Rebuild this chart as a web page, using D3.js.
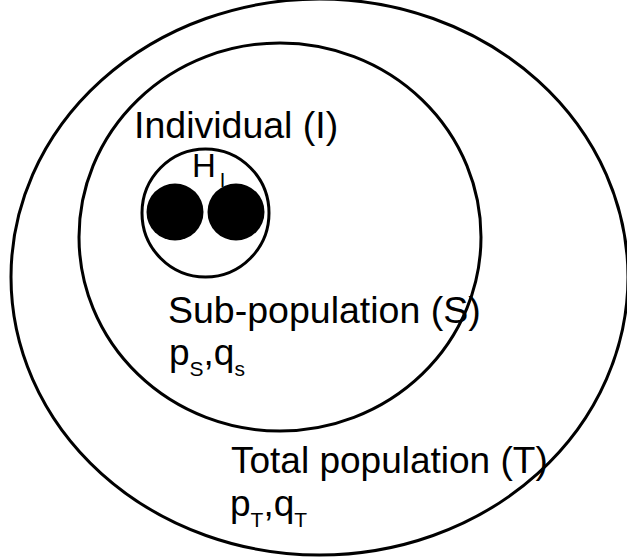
<!DOCTYPE html>
<html>
<head>
<meta charset="utf-8">
<script src="https://cdn.jsdelivr.net/npm/d3@7"></script>
<style>
  body { margin: 0; background: #fff; }
  svg text { font-family: "Liberation Sans", Arial, sans-serif; fill: #000; }
</style>
</head>
<body>
<div id="diagram"></div>
<script>
// Nested levels of the population (outer to inner)
var regions = ['Total population (T)', 'Sub-population (S)', 'Individual (I)'];
var centerX = [319.5, 280, 205.5];
var centerY = [277, 237, 213];
var radiusX = [308.5, 201, 63.5];
var radiusY = [278, 194, 64];

// The two alleles carried by the individual
var alleleX = [175, 236];
var alleleY = [212, 212];
var alleleR = 28.5;

// Labels: main text, subscript pairs
var labelText = ['Total population (T)', 'Sub-population (S)', 'Individual (I)'];
var labelX = [231, 168, 134];
var labelY = [473, 323, 138];
var labelSize = [37, 37.5, 37.5];
var freqMain = [['p', 'q'], ['p', 'q']];
var freqSub = [['T', 'T'], ['S', 's']];
var freqX = [230, 169];
var freqY = [516, 365];

var svgWidth = 627;
var svgHeight = 558;

var svg = d3.select('#diagram')
    .append('svg')
    .attr('width', svgWidth)
    .attr('height', svgHeight);

// Scales in diagram units (same as pixel grid of the figure)
var xScale = d3.scaleLinear().domain([0, 627]).range([0, svgWidth]);
var yScale = d3.scaleLinear().domain([0, 558]).range([0, svgHeight]);

var ellipseData = regions.map(function(name, i) {
    return { name: name, cx: centerX[i], cy: centerY[i], rx: radiusX[i], ry: radiusY[i] };
});

svg.selectAll('ellipse.level')
    .data(ellipseData)
    .enter()
    .append('ellipse')
    .attr('class', 'level')
    .attr('cx', d => xScale(d.cx))
    .attr('cy', d => yScale(d.cy))
    .attr('rx', d => xScale(d.rx) - xScale(0))
    .attr('ry', d => yScale(d.ry) - yScale(0))
    .attr('fill', 'none')
    .attr('stroke', '#000')
    .attr('stroke-width', 3);

svg.selectAll('circle.allele')
    .data(alleleX)
    .enter()
    .append('circle')
    .attr('class', 'allele')
    .attr('cx', d => xScale(d))
    .attr('cy', (d, i) => yScale(alleleY[i]))
    .attr('r', xScale(alleleR) - xScale(0))
    .attr('fill', '#000');

// Region labels
svg.selectAll('text.region')
    .data(labelText)
    .enter()
    .append('text')
    .attr('class', 'region')
    .attr('x', (d, i) => xScale(labelX[i]))
    .attr('y', (d, i) => yScale(labelY[i]))
    .attr('font-size', (d, i) => labelSize[i] + 'px')
    .text(d => d);

// H_I heterozygosity label
var hLabel = svg.append('text')
    .attr('x', xScale(192))
    .attr('y', yScale(177))
    .attr('font-size', '33px');
hLabel.append('tspan').text('H');
hLabel.append('tspan').attr('font-size', '20px').attr('dx', 4).attr('dy', 10).text('I');

// Allele frequency labels p_x, q_x
freqMain.forEach(function(pair, i) {
    var t = svg.append('text')
        .attr('x', xScale(freqX[i]))
        .attr('y', yScale(freqY[i]))
        .attr('font-size', '37px');
    t.append('tspan').text(pair[0]);
    t.append('tspan').attr('font-size', '21px').attr('dy', 11).text(freqSub[i][0]);
    t.append('tspan').attr('dy', -11).text(',' + pair[1]);
    t.append('tspan').attr('font-size', '21px').attr('dy', 11).text(freqSub[i][1]);
});
</script>
</body>
</html>
